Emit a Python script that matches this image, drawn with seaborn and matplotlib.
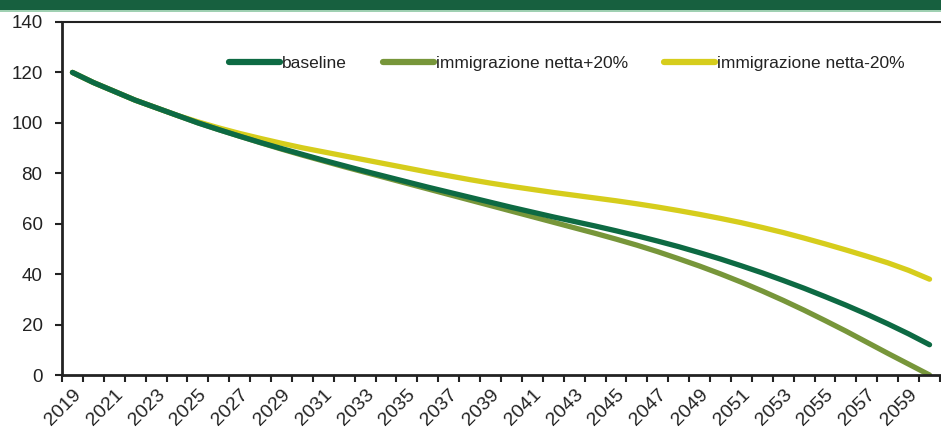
import numpy as np
import pandas as pd
import matplotlib
matplotlib.use("Agg")
import matplotlib.pyplot as plt
import seaborn as sns
from matplotlib.patches import Rectangle
from matplotlib.lines import Line2D

years = list(range(2019, 2061))
baseline = [120, 116, 112.5, 109, 106, 103, 100, 97.3, 94.7, 92.2, 89.8, 87.5, 85.2, 83,
            80.8, 78.7, 76.6, 74.5, 72.5, 70.5, 68.5, 66.5, 64.6, 62.7, 60.9, 59.1, 57.2, 55.2,
            53.1, 50.9, 48.5, 46, 43.3, 40.5, 37.5, 34.4, 31.1, 27.7, 24.1, 20.3, 16.3, 12]
plus20 = [120, 116, 112.5, 109, 106, 103, 100, 97.3, 94.7, 92.1, 89.6, 87.2, 84.9, 82.6,
          80.4, 78.2, 76, 73.8, 71.6, 69.4, 67.2, 65, 62.8, 60.6, 58.4, 56.2, 53.9, 51.5,
          48.9, 46.1, 43.2, 40.1, 36.8, 33.3, 29.6, 25.7, 21.6, 17.4, 13, 8.6, 4.3, 0]
minus20 = [120, 116, 112.5, 109, 106, 103, 100.4, 98, 95.8, 93.8, 91.9, 90.1, 88.5, 86.9,
           85.3, 83.7, 82.1, 80.5, 79, 77.5, 76.1, 74.8, 73.6, 72.4, 71.3, 70.2, 69.1, 67.9,
           66.6, 65.2, 63.7, 62.1, 60.4, 58.5, 56.5, 54.3, 52, 49.6, 47.1, 44.5, 41.5, 38]
labels = ["baseline", "immigrazione netta+20%", "immigrazione netta-20%"]
colors = ["#0d6a43", "#77963a", "#d6cd1c"]

df = pd.DataFrame({"anno": years * 3,
                   "valore": baseline + plus20 + minus20,
                   "serie": [labels[0]] * len(years) + [labels[1]] * len(years) + [labels[2]] * len(years)})

sns.set_style("white")
plt.rcParams['font.family'] = ['Liberation Sans', 'DejaVu Sans']

fig = plt.figure(figsize=(9.41, 4.33), dpi=100)
# green banner at top
fig.patches.append(Rectangle((0, 433 - 10), 941, 10, transform=None, facecolor="#17603f", edgecolor="none", zorder=0))
fig.patches.append(Rectangle((0, 433 - 12), 941, 2, transform=None, facecolor="#9fd0b2", edgecolor="none", zorder=0))

ax = fig.add_axes([62 / 941, 1 - 375 / 433, (940 - 62) / 941, (375 - 22) / 433])
sns.lineplot(data=df, x="anno", y="valore", hue="serie", hue_order=[labels[2], labels[1], labels[0]],
             palette={labels[0]: colors[0], labels[1]: colors[1], labels[2]: colors[2]},
             linewidth=3.8, ax=ax, legend=False)

ax.set_xlim(2018.5, 2060.5)
ax.set_ylim(0, 140)
ax.set_yticks(range(0, 141, 20))
ax.set_xticks(range(2019, 2060, 2))
ax.set_xticklabels([str(y) for y in range(2019, 2060, 2)], rotation=45, ha="right",
                   rotation_mode="anchor", fontsize=14, color="#222222")
ax.set_xticks(np.arange(2018.5, 2060.6, 1), minor=True)
ax.tick_params(axis="x", which="major", length=0, pad=8)
ax.tick_params(axis="x", which="minor", length=5, width=1.5, color="#222222", direction="out", bottom=True)
ax.tick_params(axis="y", length=5, width=1.5, pad=9, color="#222222", labelsize=13.5, labelcolor="#222222", left=True)
ax.set_xlabel("")
ax.set_ylabel("")
for s in ["left", "bottom"]:
    ax.spines[s].set_linewidth(2)
    ax.spines[s].set_color("#222222")
ax.spines["top"].set_linewidth(1.5)
ax.spines["top"].set_color("#222222")
ax.spines["right"].set_visible(False)

handles = [Line2D([], [], color=c, linewidth=4.5) for c in colors]
leg = ax.legend(handles, labels, loc="center", bbox_to_anchor=(0.575, 0.882), ncol=3,
                frameon=False, handlelength=2.9, handletextpad=0.12, columnspacing=2.1,
                prop={'family': ['Liberation Sans'], 'size': 12.5})
for t in leg.get_texts():
    t.set_color("#222222")

fig.savefig("out.png", dpi=100)
